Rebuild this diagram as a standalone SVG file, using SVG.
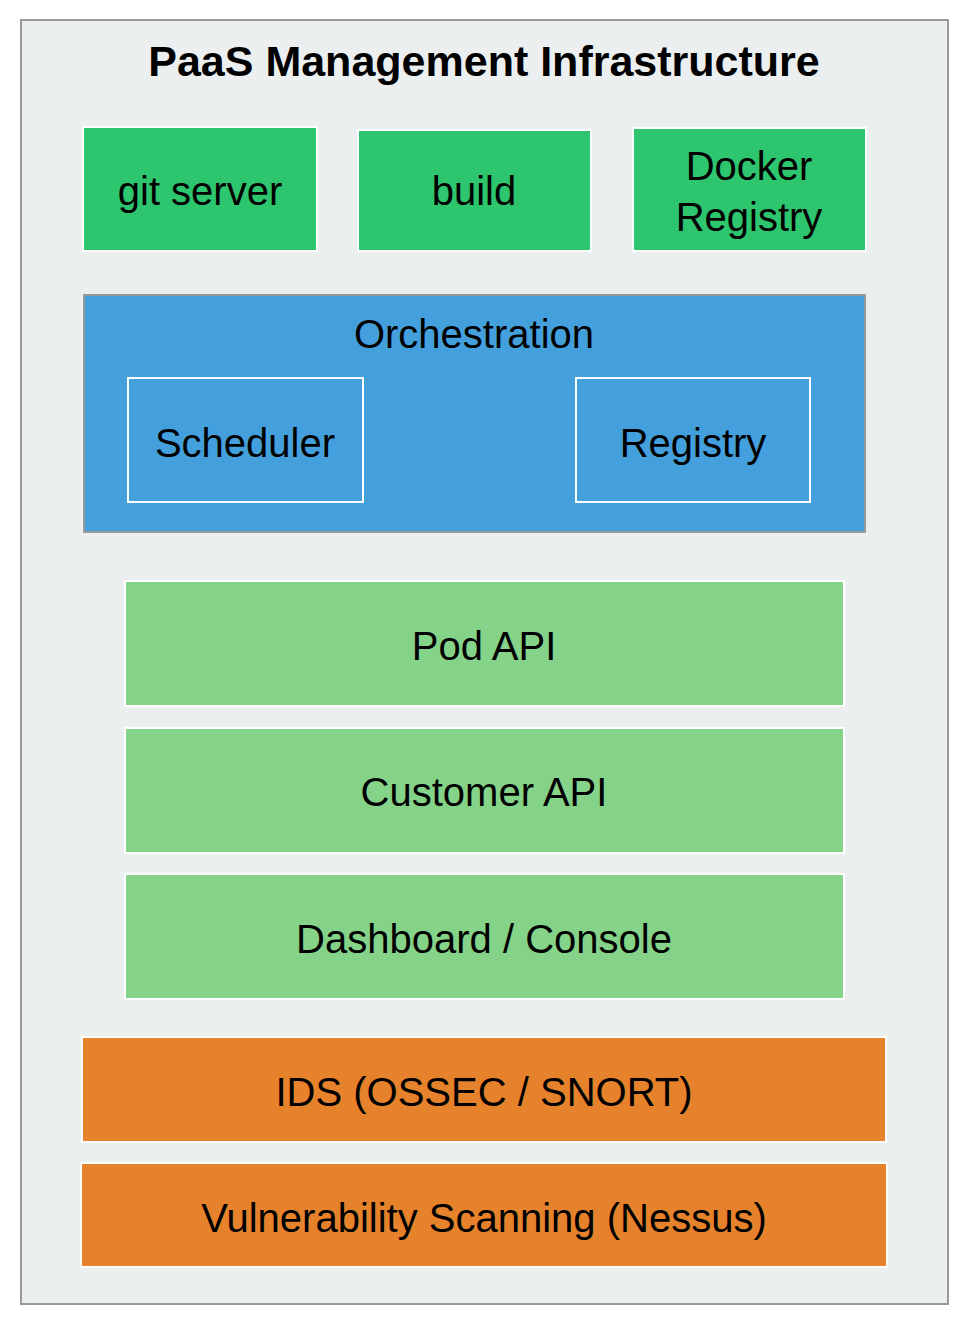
<svg xmlns="http://www.w3.org/2000/svg" width="974" height="1334" viewBox="0 0 974 1334">
<style>
.lbl{font-family:"Liberation Sans",Arial,sans-serif;font-size:40px;fill:#000;text-anchor:middle}
.title{font-family:"Liberation Sans",Arial,sans-serif;font-size:43px;font-weight:bold;fill:#000;text-anchor:middle}
.g{fill:#2DC56E;stroke:#fff;stroke-width:2}
.lg{fill:#84D389;stroke:#fff;stroke-width:2}
.o{fill:#E6822B;stroke:#fff;stroke-width:2}
.inner{fill:#44A0DC;stroke:#fff;stroke-width:2}
</style>
<rect width="974" height="1334" fill="#fff"/>
<g id="paas">
<rect x="21" y="20" width="927" height="1284" fill="#ECEFF0" stroke="#999" stroke-width="2"/>
<text class="title" x="484" y="76">PaaS Management Infrastructure</text>
</g>
<g id="git-server"><rect class="g" x="83" y="127" width="234" height="124"/><text class="lbl" x="200" y="205">git server</text></g>
<g id="build"><rect class="g" x="358" y="130" width="233" height="121"/><text class="lbl" x="474" y="205">build</text></g>
<g id="docker-registry"><rect class="g" x="633" y="128" width="233" height="123"/><text class="lbl" x="749" y="180">Docker</text><text class="lbl" x="749" y="231">Registry</text></g>
<g id="orchestration">
<rect x="84" y="295" width="781" height="237" fill="#44A0DC" stroke="#999" stroke-width="2"/>
<text class="lbl" x="474" y="348">Orchestration</text>
</g>
<g id="scheduler"><rect class="inner" x="128" y="378" width="235" height="124"/><text class="lbl" x="245" y="457">Scheduler</text></g>
<g id="registry"><rect class="inner" x="576" y="378" width="234" height="124"/><text class="lbl" x="693" y="457">Registry</text></g>
<g id="pod-api"><rect class="lg" x="125" y="581" width="719" height="125"/><text class="lbl" x="484" y="660">Pod API</text></g>
<g id="customer-api"><rect class="lg" x="125" y="728" width="719" height="125"/><text class="lbl" x="484" y="806">Customer API</text></g>
<g id="dashboard"><rect class="lg" x="125" y="874" width="719" height="125"/><text class="lbl" x="484" y="953">Dashboard / Console</text></g>
<g id="ids"><rect class="o" x="82" y="1037" width="804" height="105"/><text class="lbl" x="484" y="1106">IDS (OSSEC / SNORT)</text></g>
<g id="vuln"><rect class="o" x="81" y="1163" width="806" height="104"/><text class="lbl" x="484" y="1232">Vulnerability Scanning (Nessus)</text></g>
<g id="connectors"></g>
</svg>
